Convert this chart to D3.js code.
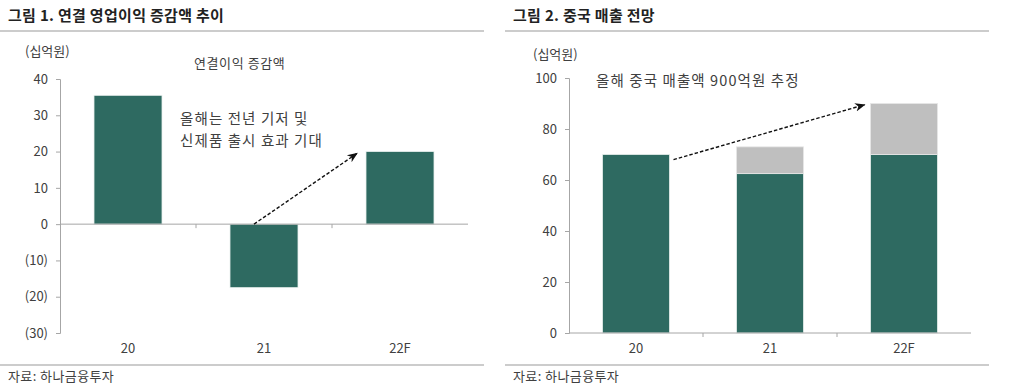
<!DOCTYPE html>
<html>
<head>
<meta charset="utf-8">
<script src="https://cdn.jsdelivr.net/npm/d3@7"></script>
<style>
  body { margin: 0; background: #fff; }
  text { font-family: "Noto Sans CJK KR", "Noto Sans", sans-serif; fill: #404040; }
  .title { font-size: 15px; font-weight: bold; fill: #222; letter-spacing: 0.3px; }
  .axis text { font-size: 13px; fill: #404040; }
  .axis path, .axis line { stroke: #a6a6a6; }
  .note { font-size: 14.5px; letter-spacing: 1.1px; }
</style>
</head>
<body>
<script>
const years = ['20', '21', '22F']

// 그림 1
const profitChange = [35.5, -17.5, 20]
const leftTicks = [40, 30, 20, 10, 0, -10, -20, -30]

// 그림 2
const chinaBase = [70, 62.5, 70]
const chinaExtra = [0, 10.5, 20]
const rightTicks = [0, 20, 40, 60, 80, 100]

const green = '#2e6a61'
const grey = '#bfbfbf'

let svg = d3.select('body').append('svg')
.attr('width', 1024)
.attr('height', 384)

let defs = svg.append('defs')
defs.append('marker')
.attr('id', 'arrow')
.attr('viewBox', '0 0 10 10')
.attr('refX', 9)
.attr('refY', 5)
.attr('markerWidth', 7.5)
.attr('markerHeight', 7.5)
.attr('orient', 'auto')
.append('path')
.attr('d', 'M0,1 L10,5 L0,9 L3,5 Z')
.attr('fill', '#111')

const fmt = d => d < 0 ? `(${-d})` : d

const frame = (x0, x1, title) => {
	svg.append('text').attr('class', 'title').attr('x', x0 + 8).attr('y', 21).text(title)
	svg.append('line').attr('x1', x0).attr('x2', x1).attr('y1', 31).attr('y2', 31).attr('stroke', '#999').attr('stroke-width', 1.2)
	svg.append('line').attr('x1', x0).attr('x2', x1).attr('y1', 365).attr('y2', 365).attr('stroke', '#999').attr('stroke-width', 1.2)
	svg.append('text').attr('x', x0 + 8).attr('y', 381).style('font-size', '13px').style('letter-spacing', '0.4px').text('자료: 하나금융투자')
}

// ---------- left chart ----------
frame(0, 484, '그림 1. 연결 영업이익 증감액 추이')

let xL = d3.scaleBand().domain(years).range([60, 468]).paddingInner(0.5).paddingOuter(0.25)
let yL = d3.scaleLinear().domain([-30, 40]).range([333, 79])

let gL = svg.append('g')

gL.append('g')
.attr('class', 'axis')
.attr('transform', 'translate(60,0)')
.call(d3.axisLeft(yL).tickValues(leftTicks).tickSize(4).tickPadding(8).tickFormat(fmt))

gL.selectAll('rect')
.data(profitChange)
.enter()
.append('rect')
.attr('x', (d, i) => xL(years[i]))
.attr('width', xL.bandwidth())
.attr('y', d => yL(Math.max(0, d)))
.attr('height', d => Math.abs(yL(d) - yL(0)))
.attr('fill', green)
.attr('stroke', '#e8efed')
.attr('stroke-width', 0.8)

let xAxisL = gL.append('g')
.attr('class', 'axis')
.attr('transform', `translate(0,${yL(0)})`)
xAxisL.append('line').attr('x1', 60).attr('x2', 468).attr('stroke', '#a6a6a6')
xAxisL.selectAll('.sep')
.data(years.slice(1))
.enter()
.append('line')
.attr('x1', d => xL(d) - xL.step() * 0.25)
.attr('x2', d => xL(d) - xL.step() * 0.25)
.attr('y1', 0).attr('y2', 4)
.attr('stroke', '#a6a6a6')

gL.selectAll('.xlab')
.data(years)
.enter()
.append('text')
.attr('x', d => xL(d) + xL.bandwidth() / 2)
.attr('y', 353)
.attr('text-anchor', 'middle')
.style('font-size', '13px')
.text(d => d)

gL.append('text').attr('x', 25).attr('y', 56).style('font-size', '13px').text('(십억원)')
gL.append('text').attr('x', 194).attr('y', 68).style('font-size', '13px').style('letter-spacing', '0.6px').text('연결이익 증감액')
gL.append('text').attr('class', 'note').attr('x', 180).attr('y', 124).text('올해는 전년 기저 및')
gL.append('text').attr('class', 'note').attr('x', 180).attr('y', 146).text('신제품 출시 효과 기대')

gL.append('line')
.attr('x1', xL('21') + xL.bandwidth() / 2 - 10)
.attr('y1', yL(0))
.attr('x2', xL('22F') - 9)
.attr('y2', yL(19.5))
.attr('stroke', '#111')
.attr('stroke-width', 1.4)
.attr('stroke-dasharray', '3.5,2')
.attr('marker-end', 'url(#arrow)')

// ---------- right chart ----------
frame(505, 989, '그림 2. 중국 매출 전망')

let xR = d3.scaleBand().domain(years).range([569, 971]).paddingInner(0.5).paddingOuter(0.25)
let yR = d3.scaleLinear().domain([0, 100]).range([333, 78])

let gR = svg.append('g')

gR.append('g')
.attr('class', 'axis')
.attr('transform', 'translate(569,0)')
.call(d3.axisLeft(yR).tickValues(rightTicks).tickSize(4).tickPadding(8))

gR.selectAll('.base')
.data(chinaBase)
.enter()
.append('rect')
.attr('x', (d, i) => xR(years[i]))
.attr('width', xR.bandwidth())
.attr('y', d => yR(d))
.attr('height', d => yR(0) - yR(d))
.attr('fill', green)
.attr('stroke', '#e8efed')
.attr('stroke-width', 0.8)

gR.selectAll('.extra')
.data(chinaExtra)
.enter()
.filter(d => d > 0)
.append('rect')
.attr('x', d => xR(years[chinaExtra.indexOf(d)]))
.attr('width', xR.bandwidth())
.attr('y', d => yR(chinaBase[chinaExtra.indexOf(d)] + d))
.attr('height', d => yR(0) - yR(d))
.attr('fill', grey)
.attr('stroke', '#e6e6e6')
.attr('stroke-width', 0.8)

let xAxisR = gR.append('g')
.attr('class', 'axis')
.attr('transform', `translate(0,${yR(0)})`)
xAxisR.append('line').attr('x1', 569).attr('x2', 971).attr('stroke', '#a6a6a6')
xAxisR.selectAll('.sep')
.data(years.slice(1))
.enter()
.append('line')
.attr('x1', d => xR(d) - xR.step() * 0.25)
.attr('x2', d => xR(d) - xR.step() * 0.25)
.attr('y1', 0).attr('y2', 4)
.attr('stroke', '#a6a6a6')

gR.selectAll('.xlab')
.data(years)
.enter()
.append('text')
.attr('x', d => xR(d) + xR.bandwidth() / 2)
.attr('y', 353)
.attr('text-anchor', 'middle')
.style('font-size', '13px')
.text(d => d)

gR.append('text').attr('x', 533).attr('y', 59).style('font-size', '13px').text('(십억원)')
gR.append('text').attr('class', 'note').attr('x', 596).attr('y', 86).text('올해 중국 매출액 900억원 추정')

gR.append('line')
.attr('x1', xR('20') + xR.bandwidth() + 4)
.attr('y1', yR(68))
.attr('x2', xR('22F') - 6)
.attr('y2', yR(89.5))
.attr('stroke', '#111')
.attr('stroke-width', 1.4)
.attr('stroke-dasharray', '3.5,2')
.attr('marker-end', 'url(#arrow)')
</script>
</body>
</html>
